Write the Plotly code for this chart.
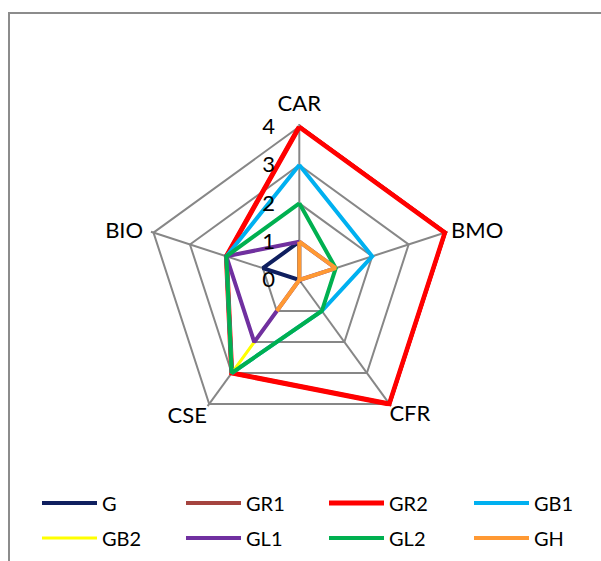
import plotly.graph_objects as go

categories = ["CAR", "BMO", "CFR", "CSE", "BIO"]
series_names = ["G", "GR1", "GR2", "GB1", "GB2", "GL1", "GL2", "GH"]
G = [1, 0, 0, 0, 1]
GR1 = [4, 4, 4, 3, 2]
GR2 = [4, 4, 4, 3, 2]
GB1 = [3, 2, 1, 3, 2]
GB2 = [1, 1, 0, 3, 2]
GL1 = [1, 1, 0, 2, 2]
GL2 = [2, 1, 1, 3, 2]
GH = [1, 1, 0, 1, 0]
radial_ticks = [0, 1, 2, 3, 4]

series_values = [G, GR1, GR2, GB1, GB2, GL1, GL2, GH]
colors = ["#0F1F5F", "#A5443F", "#FF0000", "#00B0F0", "#FFFF00", "#7030A0", "#00B050", "#FF9933"]
widths = [4, 4, 5, 4, 3, 4, 4, 4]

# category label placement around the outer ring (style only)
label_positions = ["top center", "middle right", "bottom right", "bottom left", "middle left"]
label_gaps = [14, 8, 0, 2, 15]  # invisible marker sizes that set the text gap

FONT = "Lato"
W, H = 601, 561
RMAX = max(radial_ticks)
RANGE_MAX = RMAX * 1.0175  # tiny headroom so outer lines are not clipped

# legend grid: 4 columns x 2 rows (one legend box per entry)
col_x = [37, 181, 324, 469]
row_y = [503, 538]

fig = go.Figure()
legend_layouts = {}
for i, (name, vals) in enumerate(zip(series_names, series_values)):
    key = "legend" if i == 0 else f"legend{i + 1}"
    fig.add_trace(go.Scatterpolar(
        r=vals + vals[:1],
        theta=categories + categories[:1],
        mode="lines",
        name=name,
        showlegend=True,
        line=dict(color=colors[i], width=widths[i]),
        legend=key,
    ))
    legend_layouts[key] = dict(
        orientation="h", x=col_x[i % 4] / W, y=1 - row_y[i // 4] / H,
        xanchor="left", yanchor="middle",
        font=dict(size=20, family=FONT, color="black"), itemwidth=55,
        bgcolor="rgba(0,0,0,0)",
    )

# category labels, placed through the polar axes at the outer ring
fig.add_trace(go.Scatterpolar(
    r=[RMAX] * len(categories),
    theta=categories,
    mode="markers+text",
    text=categories,
    textposition=label_positions,
    textfont=dict(size=22, family=FONT, color="black"),
    marker=dict(size=label_gaps, opacity=0),
    cliponaxis=False,
    showlegend=False,
    hoverinfo="skip",
))

cx, cy, R4 = 299.3, 280.0, 153.3
R = R4 * RANGE_MAX / RMAX
grid = "#878787"
fig.update_layout(
    width=W, height=H,
    margin=dict(l=0, r=0, t=0, b=0),
    paper_bgcolor="white",
    showlegend=True,
    font=dict(family=FONT, color="black"),
    polar=dict(
        domain=dict(x=[(cx - R) / W, (cx + R) / W], y=[1 - (cy + R) / H, 1 - (cy - R) / H]),
        gridshape="linear",
        bgcolor="white",
        angularaxis=dict(
            rotation=90, direction="clockwise",
            showline=False, showticklabels=False,
            gridcolor=grid, gridwidth=1.5, layer="below traces",
            ticks="",
        ),
        radialaxis=dict(
            range=[0, RANGE_MAX], tickvals=radial_ticks, ticktext=[str(t) for t in radial_ticks],
            angle=90, tickangle=90, side="counterclockwise",
            showline=False, gridcolor=grid, gridwidth=1.5, layer="above traces",
            ticks="outside", ticklen=16, tickcolor="rgba(0,0,0,0)",
            tickfont=dict(size=22, family=FONT, color="black"),
        ),
    ),
    shapes=[dict(type="rect", xref="paper", yref="paper",
                 x0=9 / W, x1=1.2, y0=-0.2, y1=1 - 13 / H,
                 line=dict(color="#8C8C8C", width=2))],
    **legend_layouts,
)

fig.write_html("out.html", config={"displayModeBar": False},
               post_script="document.body.style.margin='0';")
